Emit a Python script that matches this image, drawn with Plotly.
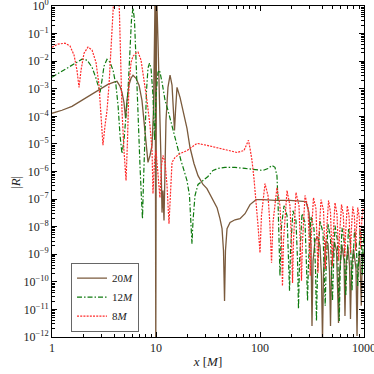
import numpy as np
import plotly.graph_objects as go

# values, stored as log10(x) and log10(|R|)
lgx_20m = [0, 0.096, 0.192, 0.288, 0.385, 0.462, 0.538, 0.596, 0.625, 0.654, 0.673, 0.692, 0.707,
           0.721, 0.740, 0.760, 0.779, 0.808, 0.837, 0.865, 0.885, 0.904, 0.923, 0.942, 0.962,
           0.976, 0.986, 0.992, 0.998, 1.005, 1.019, 1.038, 1.048, 1.058, 1.067, 1.077, 1.087,
           1.096, 1.115, 1.135, 1.154, 1.168, 1.178, 1.188, 1.202, 1.231, 1.260, 1.298, 1.327,
           1.365, 1.404, 1.452, 1.490, 1.538, 1.587, 1.615, 1.635, 1.649, 1.659, 1.668, 1.683,
           1.712, 1.760, 1.808, 1.856, 1.904, 1.962, 2.029, 2.144, 2.288, 2.442,
           2.471, 2.490, 2.500, 2.510, 2.529, 2.553, 2.577, 2.591, 2.601, 2.611, 2.635, 2.654,
           2.668, 2.678, 2.688, 2.716, 2.736, 2.745, 2.755, 2.764, 2.788, 2.808, 2.817, 2.827,
           2.846, 2.861, 2.870, 2.880, 2.899, 2.923, 2.933, 2.942, 2.957, 2.966, 2.974, 2.981,
           2.990, 3.0]
lgr_20m = [-3.89, -3.78, -3.64, -3.42, -3.20, -3.02, -2.84, -2.76, -2.73, -2.91, -3.13, -3.49, -4.07,
           -3.42, -2.87, -2.62, -2.51, -2.62, -2.87, -3.42, -4.15, -5.05, -5.67, -5.42, -5.05,
           -3.78, -1.24, 0.58, -12.5, 0.58, -1.24, -3.78, -5.60, -7.49, -6.69, -7.78, -5.96,
           -4.15, -2.95, -2.51, -2.87, -3.78, -4.51, -3.78, -2.95, -3.31, -3.78, -4.44, -5.13,
           -5.71, -6.15, -6.47, -6.62, -6.95, -7.31, -7.71, -8.07, -8.87, -10.69, -8.87, -8.07,
           -7.85, -7.75, -7.71, -7.53, -7.20, -7.02, -7.02, -7.05, -7.05, -7.09,
           -7.49, -8.69, -11.60, -9.24, -8.51, -8.36, -8.69, -9.78, -12.15, -9.60, -8.51, -8.62,
           -9.60, -11.60, -9.53, -8.55, -8.87, -9.78, -11.49, -9.67, -8.65, -9.24, -11.24, -9.42,
           -8.73, -9.42, -11.35, -9.53, -8.80, -9.53, -11.96, -9.53, -8.87, -9.78, -10.87, -9.60,
           -8.95, -8.98]

lgx_12m = [0, 0.077, 0.144, 0.221, 0.288, 0.337, 0.385, 0.423, 0.442, 0.462, 0.481, 0.500, 0.529,
           0.558, 0.587, 0.615, 0.635, 0.654, 0.673, 0.692, 0.712, 0.731, 0.750, 0.764, 0.779,
           0.793, 0.808, 0.827, 0.846, 0.861, 0.870, 0.880, 0.894, 0.909, 0.923, 0.938, 0.952,
           0.971, 0.986, 1.0, 1.019, 1.034, 1.058, 1.087, 1.115, 1.144, 1.173, 1.202, 1.240,
           1.269, 1.298, 1.322, 1.337, 1.346, 1.356, 1.375, 1.404, 1.452, 1.500, 1.548, 1.596,
           1.663, 1.760, 1.856, 1.952, 2.029, 2.077, 2.115, 2.144, 2.163, 2.173,
           2.183, 2.192, 2.207, 2.231, 2.260, 2.274, 2.284, 2.293, 2.317, 2.346, 2.361, 2.370,
           2.380, 2.404, 2.433, 2.447, 2.457, 2.466, 2.490, 2.519, 2.534, 2.543, 2.553, 2.577,
           2.606, 2.618, 2.627, 2.635, 2.654, 2.678, 2.689, 2.697, 2.705, 2.721, 2.745, 2.755,
           2.762, 2.771, 2.788, 2.808, 2.817, 2.825, 2.833, 2.851, 2.870, 2.878, 2.885, 2.891,
           2.909, 2.926, 2.933, 2.939, 2.946, 2.962, 2.976, 2.984, 2.990, 3.0]
lgr_12m = [-2.58, -2.40, -2.25, -2.07, -1.93, -1.96, -2.22, -2.62, -2.91, -3.13, -2.69, -2.18, -1.93,
           -2.04, -2.33, -2.87, -3.60, -4.69, -5.35, -4.87, -3.96, -3.05, -1.60, -0.51, -0.07,
           -0.51, -1.96, -4.15, -5.78, -7.05, -7.71, -6.33, -4.33, -3.05, -2.25, -2.07, -2.25,
           -3.24, -4.87, -3.24, -2.40, -2.33, -2.76, -3.42, -3.78, -4.22, -4.69, -5.13, -5.60,
           -5.96, -6.33, -6.87, -7.78, -8.62, -7.78, -6.87, -6.47, -6.33, -6.18, -5.96, -5.89,
           -5.85, -5.85, -5.89, -5.93, -5.96, -5.89, -5.78, -5.85, -6.15, -7.05,
           -8.51, -9.78, -7.96, -7.24, -7.60, -8.87, -10.33, -8.87, -7.42, -7.78, -9.24, -10.98,
           -9.31, -7.53, -7.85, -9.42, -10.69, -9.31, -7.64, -8.07, -9.60, -11.42, -9.60, -7.78,
           -8.22, -9.78, -10.87, -9.60, -7.89, -8.44, -9.78, -10.69, -9.67, -7.96, -8.51, -9.78,
           -11.42, -9.67, -8.04, -8.51, -9.60, -10.51, -9.53, -8.07, -8.58, -9.60, -10.33, -9.53,
           -8.11, -8.58, -9.53, -10.15, -9.42, -8.11, -8.58, -9.78, -8.87, -8.15]

lgx_8m = [0, 0.058, 0.125, 0.173, 0.212, 0.240, 0.260, 0.279, 0.308, 0.346, 0.385, 0.423, 0.452,
          0.471, 0.490, 0.510, 0.529, 0.548, 0.567, 0.587, 0.601, 0.620, 0.639, 0.649, 0.659,
          0.673, 0.692, 0.712, 0.726, 0.740, 0.760, 0.779, 0.808, 0.827, 0.856, 0.885, 0.913,
          0.942, 0.962, 0.971, 0.986, 1.0, 1.019, 1.038, 1.053, 1.067, 1.087, 1.106, 1.125,
          1.139, 1.154, 1.183, 1.231, 1.298, 1.394, 1.490, 1.615, 1.779, 1.846, 1.875, 1.889,
          1.904, 1.923, 1.942, 1.962, 1.981,
          2.0, 2.014, 2.048, 2.077, 2.096, 2.111, 2.125, 2.163, 2.192, 2.207, 2.216, 2.226,
          2.260, 2.288, 2.303, 2.313, 2.322, 2.346, 2.375, 2.389, 2.399, 2.409, 2.433, 2.462,
          2.474, 2.483, 2.491, 2.514, 2.538, 2.550, 2.558, 2.565, 2.587, 2.611, 2.621, 2.629,
          2.637, 2.659, 2.678, 2.688, 2.695, 2.703, 2.721, 2.740, 2.750, 2.758, 2.765, 2.784,
          2.801, 2.810, 2.816, 2.823, 2.839, 2.856, 2.863, 2.870, 2.877, 2.892, 2.908, 2.914,
          2.920, 2.926, 2.940, 2.955, 2.962, 2.967, 2.973, 2.987, 3.0]
lgr_8m = [-1.49, -1.38, -1.35, -1.45, -1.78, -2.33, -2.95, -2.33, -1.71, -1.49, -1.60, -2.04, -2.87,
          -3.96, -5.05, -4.33, -3.78, -2.87, -1.78, -0.33, 0.76, 0.95, 0.76, -0.33, -1.60,
          -3.78, -5.24, -6.33, -4.87, -2.87, -2.04, -1.82, -1.71, -1.67, -1.96, -2.62, -3.42,
          -4.33, -5.24, -6.80, -5.60, -5.24, -5.96, -6.95, -5.78, -5.42, -5.67, -6.51, -7.89,
          -6.51, -5.67, -5.49, -5.35, -5.24, -4.98, -5.05, -5.16, -5.31, -5.24, -4.98, -4.87,
          -5.16, -5.60, -6.25, -7.05, -7.96,
          -8.95, -7.60, -6.44, -6.87, -7.96, -9.31, -7.85, -6.58, -7.24, -8.51, -10.15, -8.51,
          -6.69, -7.24, -8.51, -10.04, -8.51, -6.76, -7.24, -8.51, -9.96, -8.51, -6.87, -7.31,
          -8.51, -9.78, -8.51, -6.95, -7.35, -8.51, -9.67, -8.44, -7.02, -7.42, -8.51, -9.53,
          -8.36, -7.05, -7.49, -8.44, -9.42, -8.36, -7.13, -7.53, -8.44, -9.24, -8.29, -7.20,
          -7.56, -8.36, -9.09, -8.25, -7.24, -7.60, -8.33, -8.95, -8.22, -7.27, -7.64, -8.29,
          -8.87, -8.18, -7.31, -7.67, -8.29, -8.80, -8.15, -7.35, -7.49]

series = [
    ("20<i>M</i>", lgx_20m, lgr_20m, "#7a5a3c", "solid", 1.3),
    ("12<i>M</i>", lgx_12m, lgr_12m, "#0f7a0f", "5px,2px,1.5px,2px", 1.2),
    ("8<i>M</i>", lgx_8m, lgr_8m, "#ff2a2a", "2px,1.2px", 1.2),
]

fig = go.Figure()
for name, lx, lr, color, dash, w in series:
    fig.add_trace(go.Scatter(
        x=10 ** np.array(lx), y=10 ** np.array(lr), mode="lines", name=name,
        line=dict(color=color, dash=dash, width=w),
    ))

x_ticks = [1, 10, 100, 1000]
y_exps = list(range(0, -13, -1))
minor_x = [m * 10 ** d for d in range(3) for m in range(2, 10)]
minor_y = [m * 10.0 ** d for d in range(-12, 0) for m in range(2, 10)]

axis_common = dict(
    type="log", showline=True, linecolor="black", linewidth=1, mirror="ticks",
    ticks="inside", ticklen=5, tickcolor="black", showgrid=False, zeroline=False,
    ticklabeloverflow="allow", automargin=False,
)

fig.update_xaxes(
    **axis_common, range=[0, 3],
    tickvals=x_ticks, ticktext=[str(v) for v in x_ticks],
    minor=dict(tickvals=minor_x, ticks="inside", ticklen=3, tickcolor="black", showgrid=False),
    title=dict(text="<i>x</i> [<i>M</i>]", standoff=2, font=dict(size=13)),
)
fig.update_yaxes(
    **axis_common, range=[-12, 0],
    tickvals=[10.0 ** e for e in y_exps],
    ticktext=["10<sup>%s</sup>" % (str(e).replace("-", "\u2212")) for e in y_exps],
    minor=dict(tickvals=minor_y, ticks="inside", ticklen=3, tickcolor="black", showgrid=False),
)

# y title as an annotation so it sits clear of the tick labels
fig.add_annotation(
    text="|<i>R</i>|", xref="paper", yref="paper", x=-0.119, y=0.468,
    xanchor="center", yanchor="middle",
    textangle=-90, showarrow=False, font=dict(size=13),
)

fig.update_layout(
    width=374, height=374,
    margin=dict(l=52, r=10, t=6, b=37),
    paper_bgcolor="white", plot_bgcolor="white",
    font=dict(family="Liberation Serif, DejaVu Serif, serif", size=12, color="#222"),
    legend=dict(
        x=0.061, y=0.225, xanchor="left", yanchor="top",
        bgcolor="white", bordercolor="#666", borderwidth=1,
        font=dict(size=11), tracegroupgap=0, itemwidth=30,
    ),
)

# the browser's default 8px page margin would shift the figure
fig.write_html("out.html", config={"displayModeBar": False},
               post_script="document.body.style.margin='0';")
